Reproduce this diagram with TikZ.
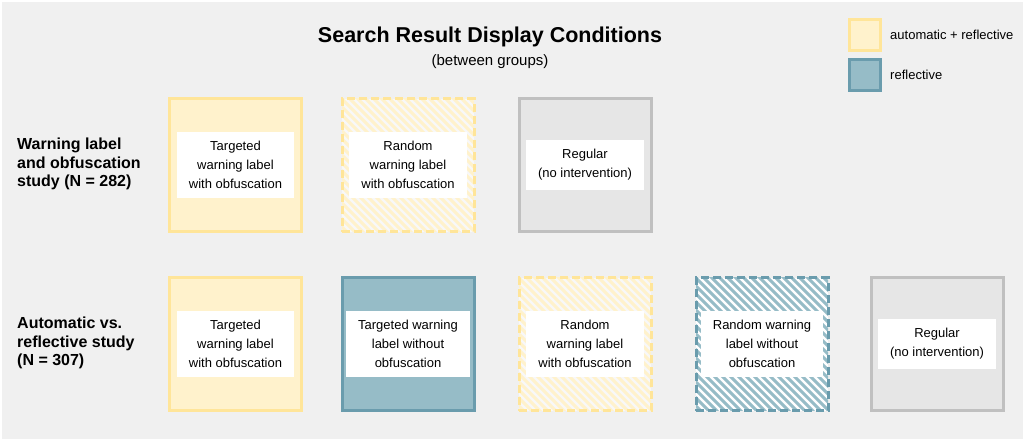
\documentclass[tikz,border=0pt]{standalone}
\usepackage{fontspec}
\setmainfont{Liberation Sans}
\usepackage{xcolor}
\usetikzlibrary{positioning}

\definecolor{bgcol}{HTML}{F0F0F0}
\definecolor{autofill}{HTML}{FFF2CC}
\definecolor{autoline}{HTML}{FFE599}
\definecolor{reffill}{HTML}{96BCC7}
\definecolor{refline}{HTML}{6A9CAD}
\definecolor{regfill}{HTML}{E6E6E6}
\definecolor{regline}{HTML}{C0C0C0}

\begin{document}
\begin{tikzpicture}[
            x=1pt, y=-1pt,
            cond/.style={rectangle, line width=3pt, minimum width=132pt, minimum height=133pt},
            autobox/.style={cond, fill=autofill, draw=autoline},
            refbox/.style={cond, fill=reffill, draw=refline},
            regbox/.style={cond, fill=regfill, draw=regline},
            randbox/.style={dash pattern=on 8pt off 4pt,
                path picture={\foreach \i in {-200,-192,...,200}
                    \draw[solid, line width=3pt, #1] ([xshift=\i pt]path picture bounding box.center) ++(-90,-90) -- ++(180,180);}},
            txt/.style={fill=white, align=center, inner xsep=12pt, inner ysep=9pt, font=\fontsize{13}{19}\selectfont},
            rowlab/.style={anchor=west, align=left, inner sep=0pt, font=\fontsize{16}{18.5}\selectfont\bfseries},
            legbox/.style={rectangle, line width=3pt, minimum size=31pt},
            legtxt/.style={anchor=west, inner sep=0pt, font=\fontsize{13}{16}\selectfont}
        ]
        \fill[bgcol] (1.5,1.5) rectangle (1022.5,438.5);
        \useasboundingbox (0,0) rectangle (1024,440);

        % Title
        \node[font=\fontsize{21.5}{25}\selectfont\bfseries] (title) at (490,37) {Search Result Display Conditions};
        \node[font=\fontsize{15}{18}\selectfont, below=1pt of title] (sub) {(between groups)};

        % Legend
        \node[legbox, fill=autofill, draw=autoline] (legauto) at (865,35) {};
        \node[legbox, fill=reffill, draw=refline] (legref) at (865,75) {};
        \node[legtxt, right=8pt of legauto] {automatic + reflective};
        \node[legtxt, right=8pt of legref] {reflective};

        % Row 1: warning label and obfuscation study
        \node[rowlab] (row1) at (17,164) {Warning label\\and obfuscation\\study (N = 282)};
        \node[autobox] (a1) at (235.5,165) {};
        \node[autobox, fill=bgcol!50!white, randbox=autofill] (a2) at (408,165) {};
        \node[regbox] (a3) at (585,165) {};
        \node[txt] at (a1) {Targeted\\warning label\\with obfuscation};
        \node[txt] at (a2) {Random\\warning label\\with obfuscation};
        \node[txt] at (a3) {Regular\\(no intervention)};

        % Row 2: automatic vs. reflective study
        \node[rowlab] (row2) at (17,343) {Automatic vs.\\reflective study\\(N = 307)};
        \node[autobox] (b1) at (235.5,344) {};
        \node[refbox] (b2) at (408,344) {};
        \node[autobox, fill=bgcol!50!white, randbox=autofill] (b3) at (585,344) {};
        \node[refbox, fill=white, randbox=reffill] (b4) at (762,344) {};
        \node[regbox] (b5) at (937,344) {};
        \node[txt] at (b1) {Targeted\\warning label\\with obfuscation};
        \node[txt] at (b2) {Targeted warning\\label without\\obfuscation};
        \node[txt] at (b3) {Random\\warning label\\with obfuscation};
        \node[txt] at (b4) {Random warning\\label without\\obfuscation};
        \node[txt] at (b5) {Regular\\(no intervention)};

    \end{tikzpicture}
\end{document}
